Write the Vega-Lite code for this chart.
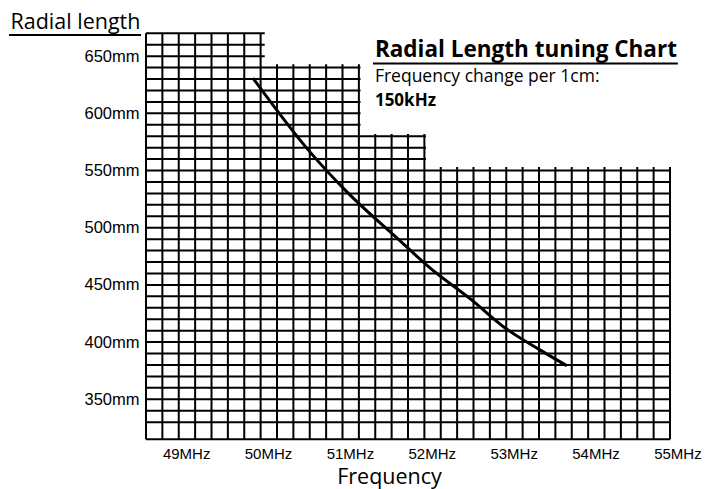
{
  "$schema": "https://vega.github.io/schema/vega-lite/v6.json",
  "width": 524,
  "height": 406,
  "autosize": {"type": "none"},
  "padding": {"left": 146, "top": 33.3, "right": 45, "bottom": 49.7},
  "background": "white",
  "config": {"view": {"stroke": null}},
  "datasets": {
    "vlines": [
      {"f": 48.8, "lo": 315, "hi": 670}, {"f": 49.0, "lo": 315, "hi": 670}, {"f": 49.2, "lo": 315, "hi": 670}, {"f": 49.4, "lo": 315, "hi": 670},
      {"f": 49.6, "lo": 315, "hi": 670}, {"f": 49.8, "lo": 315, "hi": 670}, {"f": 50.0, "lo": 315, "hi": 670}, {"f": 50.2, "lo": 315, "hi": 670},
      {"f": 50.4, "lo": 315, "hi": 643}, {"f": 50.6, "lo": 315, "hi": 643}, {"f": 50.8, "lo": 315, "hi": 643}, {"f": 51.0, "lo": 315, "hi": 643},
      {"f": 51.2, "lo": 315, "hi": 643}, {"f": 51.4, "lo": 315, "hi": 643},
      {"f": 51.6, "lo": 315, "hi": 582}, {"f": 51.8, "lo": 315, "hi": 582}, {"f": 52.0, "lo": 315, "hi": 582}, {"f": 52.2, "lo": 315, "hi": 582},
      {"f": 52.4, "lo": 315, "hi": 553}, {"f": 52.6, "lo": 315, "hi": 553}, {"f": 52.8, "lo": 315, "hi": 553}, {"f": 53.0, "lo": 315, "hi": 553},
      {"f": 53.2, "lo": 315, "hi": 553}, {"f": 53.4, "lo": 315, "hi": 553}, {"f": 53.6, "lo": 315, "hi": 553}, {"f": 53.8, "lo": 315, "hi": 553},
      {"f": 54.0, "lo": 315, "hi": 553}, {"f": 54.2, "lo": 315, "hi": 553}, {"f": 54.4, "lo": 315, "hi": 553}, {"f": 54.6, "lo": 315, "hi": 553},
      {"f": 54.8, "lo": 315, "hi": 553}, {"f": 55.0, "lo": 315, "hi": 553}, {"f": 55.2, "lo": 315, "hi": 553}
    ],
    "hlines": [
      {"r": 315, "lo": 48.8, "hi": 55.2}, {"r": 330, "lo": 48.8, "hi": 55.2}, {"r": 340, "lo": 48.8, "hi": 55.2}, {"r": 350, "lo": 48.8, "hi": 55.2},
      {"r": 360, "lo": 48.8, "hi": 55.2}, {"r": 370, "lo": 48.8, "hi": 55.2}, {"r": 380, "lo": 48.8, "hi": 55.2}, {"r": 390, "lo": 48.8, "hi": 55.2},
      {"r": 400, "lo": 48.8, "hi": 55.2}, {"r": 410, "lo": 48.8, "hi": 55.2}, {"r": 420, "lo": 48.8, "hi": 55.2}, {"r": 430, "lo": 48.8, "hi": 55.2},
      {"r": 440, "lo": 48.8, "hi": 55.2}, {"r": 450, "lo": 48.8, "hi": 55.2}, {"r": 460, "lo": 48.8, "hi": 55.2}, {"r": 470, "lo": 48.8, "hi": 55.2},
      {"r": 480, "lo": 48.8, "hi": 55.2}, {"r": 490, "lo": 48.8, "hi": 55.2}, {"r": 500, "lo": 48.8, "hi": 55.2}, {"r": 510, "lo": 48.8, "hi": 55.2},
      {"r": 520, "lo": 48.8, "hi": 55.2}, {"r": 530, "lo": 48.8, "hi": 55.2}, {"r": 540, "lo": 48.8, "hi": 55.2}, {"r": 550, "lo": 48.8, "hi": 55.2},
      {"r": 560, "lo": 48.8, "hi": 52.22}, {"r": 570, "lo": 48.8, "hi": 52.22}, {"r": 580, "lo": 48.8, "hi": 52.22},
      {"r": 590, "lo": 48.8, "hi": 51.42}, {"r": 600, "lo": 48.8, "hi": 51.42}, {"r": 610, "lo": 48.8, "hi": 51.42}, {"r": 620, "lo": 48.8, "hi": 51.42},
      {"r": 630, "lo": 48.8, "hi": 51.42}, {"r": 640, "lo": 48.8, "hi": 51.42},
      {"r": 650, "lo": 48.8, "hi": 50.25}, {"r": 660, "lo": 48.8, "hi": 50.25}, {"r": 670, "lo": 48.8, "hi": 50.25}
    ],
    "curve": [
      {"f": 50.106, "r": 630.9}, {"f": 50.802, "r": 566.3}, {"f": 51.254, "r": 531.3}, {"f": 51.877, "r": 490.2},
      {"f": 52.268, "r": 464.9}, {"f": 52.777, "r": 436.9}, {"f": 53.183, "r": 412.5}, {"f": 53.611, "r": 393.2},
      {"f": 53.94, "r": 379.3}
    ]
  },
  "layer": [
    {
      "data": {"name": "vlines"},
      "mark": {"type": "rule", "color": "black", "strokeWidth": 2},
      "encoding": {
        "x": {
          "field": "f", "type": "quantitative", "title": "Frequency",
          "scale": {"domain": [48.8, 55.2], "nice": false, "zero": false},
          "axis": {
            "values": [49, 50, 51, 52, 53, 54, 55],
            "labelExpr": "datum.value + 'MHz'",
            "labelAlign": "left", "labelFlush": false, "labelBaseline": "top",
            "labelFont": "Liberation Sans", "labelFontSize": 15, "labelColor": "black", "labelPadding": 7,
            "ticks": false, "domain": false, "grid": false,
            "titleFont": "Open Sans", "titleFontSize": 21.5, "titleFontWeight": "normal", "titleColor": "black",
            "titleX": 243, "titleY": 44, "titleBaseline": "alphabetic", "titleAlign": "center"
          }
        },
        "y": {
          "field": "lo", "type": "quantitative", "title": "Radial length",
          "scale": {"domain": [315, 670], "nice": false, "zero": false},
          "axis": {
            "values": [350, 400, 450, 500, 550, 600, 650],
            "labelExpr": "datum.value + 'mm'",
            "labelFont": "Liberation Sans", "labelFontSize": 16.5, "labelColor": "black", "labelPadding": 7,
            "ticks": false, "domain": false, "grid": false,
            "titleFont": "Open Sans", "titleFontSize": 21.5, "titleFontWeight": "normal", "titleColor": "black",
            "titleAngle": 0, "titleAlign": "left", "titleBaseline": "alphabetic", "titleX": -136, "titleY": -5
          }
        },
        "y2": {"field": "hi"}
      }
    },
    {
      "data": {"name": "hlines"},
      "mark": {"type": "rule", "color": "black", "strokeWidth": 2},
      "encoding": {
        "y": {"field": "r", "type": "quantitative", "title": "Radial length"},
        "x": {"field": "lo", "type": "quantitative", "title": "Frequency"},
        "x2": {"field": "hi"}
      }
    },
    {
      "data": {"name": "curve"},
      "mark": {"type": "line", "color": "black", "strokeWidth": 3, "interpolate": "monotone"},
      "encoding": {
        "x": {"field": "f", "type": "quantitative", "title": "Frequency"},
        "y": {"field": "r", "type": "quantitative", "title": "Radial length"}
      }
    },
    {
      "data": {"values": [{"label": "Radial Length tuning Chart"}]},
      "mark": {"type": "text", "font": "Open Sans", "fontSize": 22.5, "fontWeight": "bold", "align": "left", "baseline": "alphabetic", "color": "black"},
      "encoding": {
        "x": {"datum": 51.596, "type": "quantitative"},
        "y": {"datum": 649.4, "type": "quantitative"},
        "text": {"field": "label"}
      }
    },
    {
      "data": {"values": [{"label": "Frequency change per 1cm:"}]},
      "mark": {"type": "text", "font": "Open Sans", "fontSize": 17.5, "align": "left", "baseline": "alphabetic", "color": "black"},
      "encoding": {
        "x": {"datum": 51.596, "type": "quantitative"},
        "y": {"datum": 627.0, "type": "quantitative"},
        "text": {"field": "label"}
      }
    },
    {
      "data": {"values": [{"label": "150kHz"}]},
      "mark": {"type": "text", "font": "Open Sans", "fontSize": 17, "fontWeight": "bold", "align": "left", "baseline": "alphabetic", "color": "black"},
      "encoding": {
        "x": {"datum": 51.596, "type": "quantitative"},
        "y": {"datum": 606.5, "type": "quantitative"},
        "text": {"field": "label"}
      }
    },
    {
      "data": {"values": [{"label": "title underline"}]},
      "mark": {"type": "rule", "color": "black", "strokeWidth": 2},
      "encoding": {
        "x": {"datum": 51.572, "type": "quantitative"},
        "x2": {"datum": 55.296},
        "y": {"datum": 643.6, "type": "quantitative"}
      }
    },
    {
      "data": {"values": [{"label": "axis title underline"}]},
      "mark": {"type": "rule", "color": "black", "strokeWidth": 2},
      "encoding": {
        "x": {"datum": 47.127, "type": "quantitative"},
        "x2": {"datum": 48.739},
        "y": {"datum": 668.5, "type": "quantitative"}
      }
    }
  ]
}
